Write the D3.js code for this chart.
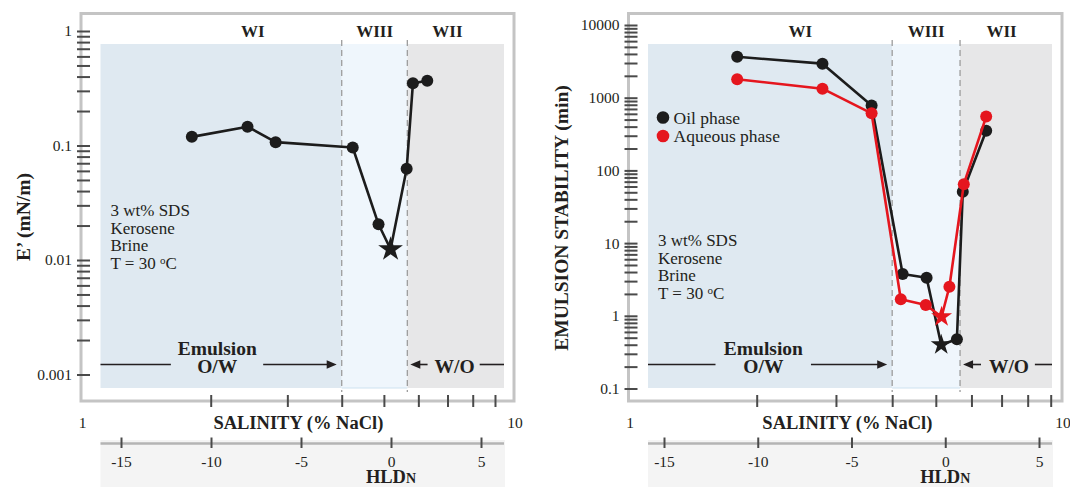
<!DOCTYPE html>
<html>
<head>
<meta charset="utf-8">
<script src="https://cdn.jsdelivr.net/npm/d3@7"></script>
<style>
  html, body { margin: 0; padding: 0; background: #ffffff; }
  svg { display: block; }
  text { font-family: "Liberation Serif", "Times New Roman", serif; fill: #231f20; }
</style>
</head>
<body>
<script>
// ---- Data -------------------------------------------------------------
// Dilatational elasticity E' versus salinity (% NaCl)
const salinityE  = [1.81, 2.43, 2.82, 4.24, 4.86, 5.18, 5.64, 5.83, 6.29];
const elasticity = [0.119, 0.146, 0.107, 0.096, 0.0205, 0.0124, 0.0626, 0.349, 0.368];
const starIndexE = 5;

// Emulsion stability (min) measured from the oil and the aqueous phase
const salinityOil  = [1.81, 2.80, 3.60, 4.22, 4.77, 5.14, 5.57, 5.74, 6.47];
const stabilityOil = [3650, 2940, 780, 3.76, 3.34, 0.40, 0.475, 50.9, 351];
const salinityAq   = [1.81, 2.80, 3.60, 4.18, 4.75, 5.15, 5.36, 5.77, 6.47];
const stabilityAq  = [1790, 1330, 610, 1.69, 1.41, 0.97, 2.51, 64.6, 550];
const starIndexStab = 5;

// Winsor regions: WI | WIII | WII, limits in % NaCl
const regionNames  = ["WI", "WIII", "WII"];
const regionBounds = [4.0, 5.66];
const regionLabelAt = [2.5, 4.76, 7.0];

const salinityTicks = [2, 3, 4, 5, 6, 7, 8, 9];
const hldTicks = [-15, -10, -5, 0, 5];
const infoLines = ["3 wt% SDS", "Kerosene", "Brine"];
const legendNames = ["Oil phase", "Aqueous phase"];

// ---- Drawing ----------------------------------------------------------
const svg = d3.select("body").append("svg").attr("width", 1070).attr("height", 487);

const INK = "#1c1c1c";
const RED = "#e5161e";

const panels = [
  {
    frame: { x0: 81, y0: 13.5, x1: 514, y1: 401 },
    xRange: [79.7, 514.9],
    yDomain: [0.001, 1], yRange: [374.5, 31],
    hldRange: [121, 481],
    yLabel: "E’ (mN/m)", yLabelX: 23, yLabelY: 217,
    infoY: 210, starR: 13,
    series: [{ s: salinityE, v: elasticity, star: starIndexE, color: INK }]
  },
  {
    frame: { x0: 628.5, y0: 13.5, x1: 1062, y1: 401 },
    xRange: [621.2, 1071.3],
    yDomain: [0.1, 10000], yRange: [388.5, 25],
    hldRange: [664, 1039],
    yLabel: "EMULSION STABILITY (min)", yLabelX: 561, yLabelY: 218,
    infoY: 240, starR: 11, legend: true,
    series: [
      { s: salinityOil, v: stabilityOil, star: starIndexStab, color: INK },
      { s: salinityAq,  v: stabilityAq,  star: starIndexStab, color: RED }
    ]
  }
];

function isDecade(v) {
  const l = Math.log10(v);
  return Math.abs(l - Math.round(l)) < 1e-9;
}

function arrow(g, xFrom, xTo, y) {
  const dir = xTo > xFrom ? 1 : -1;
  g.append("line")
    .attr("x1", xFrom).attr("x2", xTo - dir * 6).attr("y1", y).attr("y2", y)
    .attr("stroke", "#231f20").attr("stroke-width", 1.6);
  g.append("path")
    .attr("d", `M${xTo},${y} L${xTo - dir * 10},${y - 4.2} L${xTo - dir * 10},${y + 4.2} Z`)
    .attr("fill", "#231f20");
}

function drawPanel(p) {
  const g = svg.append("g");
  const f = p.frame;
  const x = d3.scaleLog().domain([1, 10]).range(p.xRange);
  const y = d3.scaleLog().domain(p.yDomain).range(p.yRange);
  const hld = d3.scaleLinear().domain([-15, 5]).range(p.hldRange);

  const shadeL = f.x0 + 19.5, shadeR = f.x1 - 10;
  const shadeTop = 44, shadeBottom = 388;

  // HLDn band beneath the plot
  g.append("rect")
    .attr("x", shadeL).attr("y", 440).attr("width", shadeR - shadeL + 1).attr("height", 47)
    .attr("fill", "#f4f4f4");

  // Winsor region shading
  const edges = [shadeL, x(regionBounds[0]), x(regionBounds[1]), shadeR];
  const fills = ["#dfe9f1", "#eff6fc", "#e7e7e8"];
  fills.forEach((c, i) => {
    g.append("rect")
      .attr("x", edges[i]).attr("y", shadeTop)
      .attr("width", edges[i + 1] - edges[i]).attr("height", shadeBottom - shadeTop)
      .attr("fill", c);
  });
  g.append("line")
    .attr("x1", edges[1]).attr("x2", edges[2]).attr("y1", shadeBottom).attr("y2", shadeBottom)
    .attr("stroke", "#cde2f0").attr("stroke-width", 1);

  // Region boundaries
  regionBounds.forEach(b => {
    g.append("line")
      .attr("x1", x(b)).attr("x2", x(b)).attr("y1", 40).attr("y2", 392)
      .attr("stroke", "#9c9c9c").attr("stroke-width", 1.3).attr("stroke-dasharray", "6,4");
  });

  // Region names
  regionNames.forEach((n, i) => {
    g.append("text")
      .attr("x", x(regionLabelAt[i])).attr("y", 31.5).attr("dy", "0.35em")
      .attr("text-anchor", "middle").attr("font-weight", "bold").attr("font-size", 17)
      .text(n);
  });

  // Frame
  g.append("rect")
    .attr("x", f.x0).attr("y", f.y0).attr("width", f.x1 - f.x0).attr("height", f.y1 - f.y0)
    .attr("fill", "none").attr("stroke", "#c4c4c4").attr("stroke-width", 3);

  // Log y axis with decade labels
  const yAxis = g.append("g").attr("transform", `translate(${f.x0},0)`)
    .call(d3.axisLeft(y).tickValues(y.ticks()).tickSize(0).tickPadding(9)
      .tickFormat(v => isDecade(v) ? String(+v.toPrecision(6)) : ""));
  yAxis.select(".domain").remove();
  yAxis.selectAll(".tick line")
    .attr("x1", -4).attr("x2", 9).attr("stroke", "#4a4a4a").attr("stroke-width", 2);
  yAxis.selectAll(".tick text")
    .attr("font-size", 15.5).attr("font-family", null).style("fill", "#231f20");

  // Log salinity axis
  const xAxis = g.append("g").attr("transform", `translate(0,${f.y1})`)
    .call(d3.axisBottom(x).tickValues(salinityTicks).tickSize(0).tickFormat(""));
  xAxis.select(".domain").remove();
  xAxis.selectAll(".tick line")
    .attr("y1", -6).attr("y2", 6).attr("stroke", "#4a4a4a").attr("stroke-width", 2);

  g.append("text").attr("x", f.x0 + 1.5).attr("y", 423).attr("dy", "0.35em")
    .attr("text-anchor", "middle").attr("font-size", 15.5).text("1");
  g.append("text").attr("x", f.x1 + 1).attr("y", 423).attr("dy", "0.35em")
    .attr("text-anchor", "middle").attr("font-size", 15.5).text("10");
  g.append("text").attr("x", x(3.18)).attr("y", 422.5).attr("dy", "0.35em")
    .attr("text-anchor", "middle").attr("font-weight", "bold").attr("font-size", 18.5)
    .text("SALINITY (% NaCl)");

  // HLDn axis
  g.append("line")
    .attr("x1", shadeL).attr("x2", shadeR).attr("y1", 443.5).attr("y2", 443.5)
    .attr("stroke", "#b4b4b4").attr("stroke-width", 2.5);
  const hAxis = g.append("g").attr("transform", "translate(0,443.5)")
    .call(d3.axisBottom(hld).tickValues(hldTicks).tickSize(0).tickPadding(12)
      .tickFormat(d => String(d)));
  hAxis.select(".domain").remove();
  hAxis.selectAll(".tick line")
    .attr("y1", -6).attr("y2", 4.5).attr("stroke", "#4a4a4a").attr("stroke-width", 2);
  hAxis.selectAll(".tick text")
    .attr("font-size", 15.5).attr("font-family", null).style("fill", "#231f20");
  const hl = g.append("text").attr("x", hld(0)).attr("y", 476.5).attr("dy", "0.35em")
    .attr("text-anchor", "middle").attr("font-weight", "bold").attr("font-size", 18.5);
  hl.append("tspan").text("HLD");
  hl.append("tspan").attr("font-size", 14).text("N");

  // Y axis title
  g.append("text")
    .attr("transform", `translate(${p.yLabelX},${p.yLabelY}) rotate(-90)`)
    .attr("dy", "0.35em").attr("text-anchor", "middle")
    .attr("font-weight", "bold").attr("font-size", 19.5)
    .text(p.yLabel);

  // System description
  const ix = f.x0 + 29.5;
  infoLines.forEach((t, i) => {
    g.append("text").attr("x", ix).attr("y", p.infoY + i * 17.7).attr("dy", "0.35em")
      .attr("font-size", 17).text(t);
  });
  const tt = g.append("text").attr("x", ix).attr("y", p.infoY + 3 * 17.7).attr("dy", "0.35em")
    .attr("font-size", 17);
  tt.append("tspan").text("T = 30 ");
  tt.append("tspan").attr("font-size", 11).attr("dy", "-0.45em").text("o");
  tt.append("tspan").attr("dy", "0.3em").text("C");

  // Emulsion type annotations
  const ay = 364.5;
  g.append("line").attr("x1", shadeL).attr("x2", x(1.62)).attr("y1", ay).attr("y2", ay)
    .attr("stroke", "#231f20").attr("stroke-width", 1.6);
  g.append("text").attr("x", x(2.07)).attr("y", 348.5).attr("dy", "0.35em")
    .attr("text-anchor", "middle").attr("font-weight", "bold").attr("font-size", 19.5).text("Emulsion");
  g.append("text").attr("x", x(2.07)).attr("y", 366).attr("dy", "0.35em")
    .attr("text-anchor", "middle").attr("font-weight", "bold").attr("font-size", 19.5).text("O/W");
  arrow(g, x(2.64), x(regionBounds[0]) - 5, ay);
  arrow(g, x(6.3), x(regionBounds[1]) + 3, ay);
  g.append("text").attr("x", x(7.27)).attr("y", 366).attr("dy", "0.35em")
    .attr("text-anchor", "middle").attr("font-weight", "bold").attr("font-size", 19.5).text("W/O");
  g.append("line").attr("x1", x(8.3)).attr("x2", shadeR).attr("y1", ay).attr("y2", ay)
    .attr("stroke", "#231f20").attr("stroke-width", 1.6);

  // Series: line, circles, star at the optimum
  const line = d3.line().x(d => x(d[0])).y(d => y(d[1]));
  const star = d3.symbol().type(d3.symbolStar).size(p.starR * p.starR / 0.8908130915292852);
  p.series.forEach(sr => {
    const pts = sr.s.map((s, i) => [s, sr.v[i]]);
    g.append("path").attr("d", line(pts))
      .attr("fill", "none").attr("stroke", sr.color).attr("stroke-width", 2.6)
      .attr("stroke-linejoin", "round");
    g.selectAll(null).data(pts.filter((d, i) => i !== sr.star)).enter()
      .append("circle").attr("cx", d => x(d[0])).attr("cy", d => y(d[1])).attr("r", 6)
      .attr("fill", sr.color);
    const sp = pts[sr.star];
    g.append("path").attr("d", star())
      .attr("transform", `translate(${x(sp[0])},${y(sp[1])})`)
      .attr("fill", sr.color);
  });

  // Legend
  if (p.legend) {
    const colors = [INK, RED];
    legendNames.forEach((n, i) => {
      const ly = 117.5 + i * 18.5;
      g.append("circle").attr("cx", f.x0 + 34.5).attr("cy", ly).attr("r", 6.3).attr("fill", colors[i]);
      g.append("text").attr("x", f.x0 + 45).attr("y", ly).attr("dy", "0.35em")
        .attr("font-size", 17.5).text(n);
    });
  }
}

panels.forEach(drawPanel);
</script>
</body>
</html>
